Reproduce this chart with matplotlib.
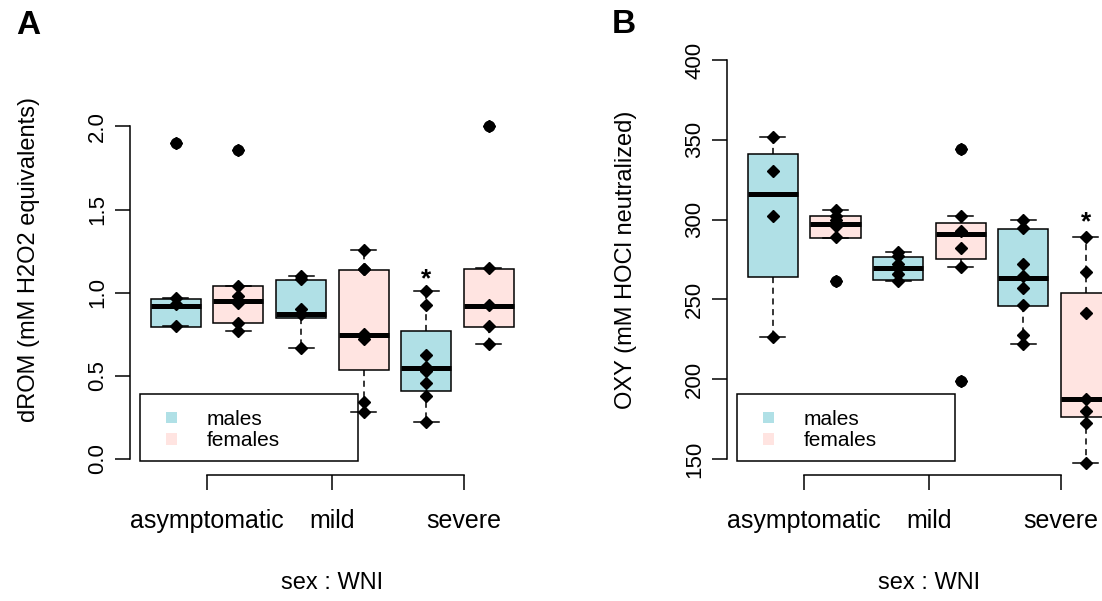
import matplotlib
matplotlib.use("Agg")
import matplotlib.pyplot as plt
from matplotlib.patches import Patch, Rectangle

plt.rcParams['font.family'] = ['Liberation Sans', 'DejaVu Sans']

groups = ["males:asymptomatic", "females:asymptomatic", "males:mild",
          "females:mild", "males:severe", "females:severe"]
group_ticks = [1.5, 3.5, 5.6]
group_labels = ["asymptomatic", "mild", "severe"]
fill_cols = ["#b0e0e6", "#ffe4e1", "#b0e0e6", "#ffe4e1", "#b0e0e6", "#ffe4e1"]

# panel A - dROM
drom_points = [
    [0.80, 0.93, 0.97, 1.90],
    [0.77, 0.82, 0.94, 0.98, 1.04, 1.86],
    [0.67, 0.875, 0.90, 1.08, 1.10],
    [0.284, 0.344, 0.72, 0.75, 1.14, 1.145, 1.255],
    [0.224, 0.378, 0.46, 0.53, 0.555, 0.627, 0.925, 1.01],
    [0.69, 0.80, 0.925, 1.15, 2.00],
]
drom_q1 = [0.795, 0.815, 0.851, 0.533, 0.407, 0.795]
drom_med = [0.921, 0.953, 0.871, 0.747, 0.545, 0.921]
drom_q3 = [0.961, 1.041, 1.077, 1.135, 0.769, 1.145]
drom_lo = [0.80, 0.77, 0.67, 0.284, 0.224, 0.69]
drom_hi = [0.97, 1.04, 1.10, 1.255, 1.01, 1.15]
drom_out = [[1.90], [1.86], [], [], [], [2.00]]
drom_star = (5, 1.08)
drom_ticks = [0.0, 0.5, 1.0, 1.5, 2.0]

# panel B - OXY
oxy_points = [
    [226.2, 302.5, 330.7, 351.6],
    [261.5, 289, 296, 299.7, 302.5, 306],
    [261.7, 266, 269.5, 272, 277, 279.9],
    [198.7, 270.5, 282, 293, 302.5, 344.4],
    [222, 227.5, 246.5, 257, 264.5, 272, 295, 300],
    [147.3, 172.7, 180.3, 187.6, 241.7, 267, 288.9],
]
oxy_q1 = [264.2, 288.7, 262.4, 275.6, 246.0, 176.1]
oxy_med = [316.0, 297.0, 269.5, 290.8, 263.6, 187.6]
oxy_q3 = [341.3, 302.3, 276.4, 297.9, 293.9, 254.2]
oxy_lo = [226.2, 288.7, 261.7, 270.5, 222, 147.3]
oxy_hi = [351.6, 306, 279.9, 302.5, 300, 288.9]
oxy_out = [[], [261.5], [], [198.7, 344.4], [], []]
oxy_star = (6, 298)
oxy_ticks = [150, 200, 250, 300, 350, 400]


def panel(ax, points, q1, med, q3, lo, hi, out, star, yticks, ylim, ylabel, fmt):
    stats = []
    for i in range(len(groups)):
        stats.append(dict(q1=q1[i], med=med[i], q3=q3[i], whislo=lo[i],
                          whishi=hi[i], fliers=out[i], label=groups[i]))
    pos = list(range(1, len(groups) + 1))
    bp = ax.bxp(stats, positions=pos, widths=0.8, capwidths=0.4,
                patch_artist=True, showfliers=True,
                boxprops=dict(lw=1.1, edgecolor="black"),
                medianprops=dict(lw=3.6, color="black", solid_capstyle="butt"),
                whiskerprops=dict(lw=1.1, linestyle=(0, (4, 3)), color="black"),
                capprops=dict(lw=1.1, color="black"),
                flierprops=dict(marker="o", mfc="black", mec="black", ms=7.5))
    for patch, c in zip(bp["boxes"], fill_cols):
        patch.set_facecolor(c)
    for p, vals in zip(pos, points):
        ax.plot([p] * len(vals), vals, "D", color="black", ms=6.5, zorder=5)
    ax.text(star[0], star[1], "*", ha="center", va="center", fontsize=19,
            fontweight="bold", zorder=6)

    ax.set_xlim(0.26, 6.74)
    ax.set_ylim(*ylim)
    for s in ["top", "right"]:
        ax.spines[s].set_visible(False)
    ax.spines["left"].set_bounds(yticks[0], yticks[-1])
    ax.spines["bottom"].set_bounds(group_ticks[0], group_ticks[-1])
    for s in ["left", "bottom"]:
        ax.spines[s].set_linewidth(1.1)
    ax.set_yticks(yticks)
    ax.set_yticklabels([fmt.format(v) for v in yticks], rotation=90, va="center",
                       fontsize=16)
    ax.set_xticks(group_ticks)
    ax.set_xticklabels(group_labels, fontsize=18)
    ax.tick_params(axis="both", length=10.5, width=1.1, direction="out")
    ax.tick_params(axis="y", pad=5)
    ax.tick_params(axis="x", pad=14)
    ax.set_xlabel("sex : WNI", fontsize=17, va="center")
    ax.xaxis.set_label_coords(0.5, -0.25)
    ax.text(-0.248, 0.5, ylabel, transform=ax.transAxes, rotation=90,
            ha="center", va="center", fontsize=17)

    ax.add_patch(Rectangle((0.025, 0.032), 0.539, 0.157, transform=ax.transAxes,
                           fill=False, lw=1.1, ec="black", zorder=7, clip_on=False))
    handles = [Patch(facecolor="#b0e0e6", edgecolor="none"),
               Patch(facecolor="#ffe4e1", edgecolor="none")]
    ax.legend(handles, ["males", "females"], loc="upper left",
              bbox_to_anchor=(0.09, 0.151), frameon=False, fontsize=15,
              handlelength=0.5, handleheight=0.5, handletextpad=1.45,
              labelspacing=0.1, borderpad=0, borderaxespad=0)


fig = plt.figure(figsize=(11.02, 6.01), dpi=100)
axA = fig.add_axes([0.1176, 0.2097, 0.3679, 0.7171])
axB = fig.add_axes([0.6594, 0.2097, 0.3679, 0.7171])

panel(axA, drom_points, drom_q1, drom_med, drom_q3, drom_lo, drom_hi, drom_out,
      drom_star, drom_ticks, (-0.096, 2.496), "dROM (mM H2O2 equivalents)", "{:.1f}")
panel(axB, oxy_points, oxy_q1, oxy_med, oxy_q3, oxy_lo, oxy_hi, oxy_out,
      oxy_star, oxy_ticks, (140, 410), "OXY (mM HOCl neutralized)", "{:.0f}")

fig.text(0.0254, 0.958, "A", fontsize=24, fontweight="bold", ha="center", va="center")
fig.text(0.566, 0.960, "B", fontsize=24, fontweight="bold", ha="center", va="center")

fig.savefig("out.png", dpi=100)
